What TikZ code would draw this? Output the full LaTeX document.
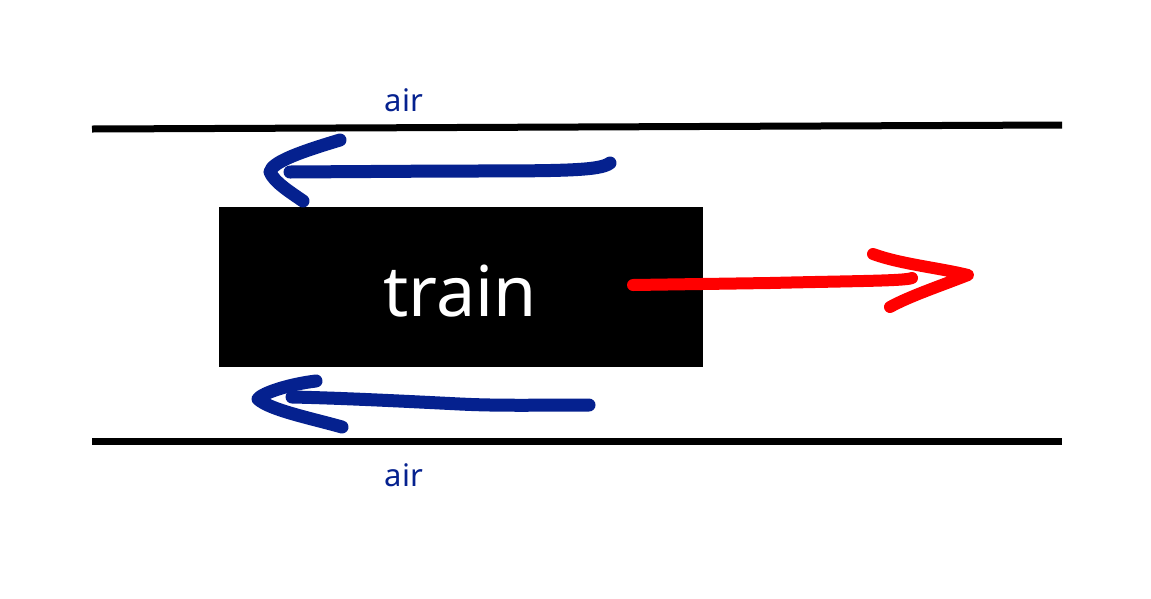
\documentclass[tikz,border=0pt]{standalone}
\usepackage{fontspec}
\setmainfont{Noto Sans}
\definecolor{airblue}{RGB}{5,33,143}
\definecolor{pushred}{RGB}{255,0,0}
\begin{document}
\begin{tikzpicture}[x=1pt,y=-1pt,
  wall/.style={line width=7pt},
  airstroke/.style={airblue,line width=13pt,line cap=round,line join=round},
  redstroke/.style={pushred,line width=12pt,line cap=round,line join=round},
  airlabel/.style={text=airblue,font=\fontsize{31}{33}\selectfont,inner sep=0pt}]
\useasboundingbox[fill=white] (0,0) rectangle (1151,598);
% walls
\draw[wall] (92,129) -- (1062,125);
\draw[wall] (92,441) -- (1062,441);
% train
\node[fill=black,minimum width=484pt,minimum height=160pt,inner sep=0pt,anchor=north west]
  (train) at (219,207) {};
\node[text=white,font=\fontsize{70}{72}\selectfont,inner sep=0pt] (trainlabel) at (460,291) {train};
% labels
\node[airlabel] (airtop) at (404,100) {air};
\node[airlabel] (airbot) at (404,475) {air};
% top air arrow
\draw[airstroke] (610,163) .. controls (600,171) and (560,171) .. (450,171) -- (290,172);
\draw[airstroke] (340,140) .. controls (300,152) and (272,162) .. (270,172)
  .. controls (274,182) and (290,192) .. (303,201);
% bottom air arrow
\draw[airstroke] (589,405) .. controls (540,405) and (500,406) .. (460,404)
  .. controls (400,401) and (340,398) .. (292,397);
\draw[airstroke] (316,381) .. controls (290,384) and (262,393) .. (258,399)
  .. controls (270,410) and (310,418) .. (342,427);
% red push arrow
\draw[redstroke] (633,285) -- (770,283) .. controls (850,281) and (905,281) .. (912,278);
\draw[redstroke] (873,254) .. controls (900,264) and (940,268) .. (968,275)
  .. controls (940,286) and (910,296) .. (890,307);
\end{tikzpicture}
\end{document}
